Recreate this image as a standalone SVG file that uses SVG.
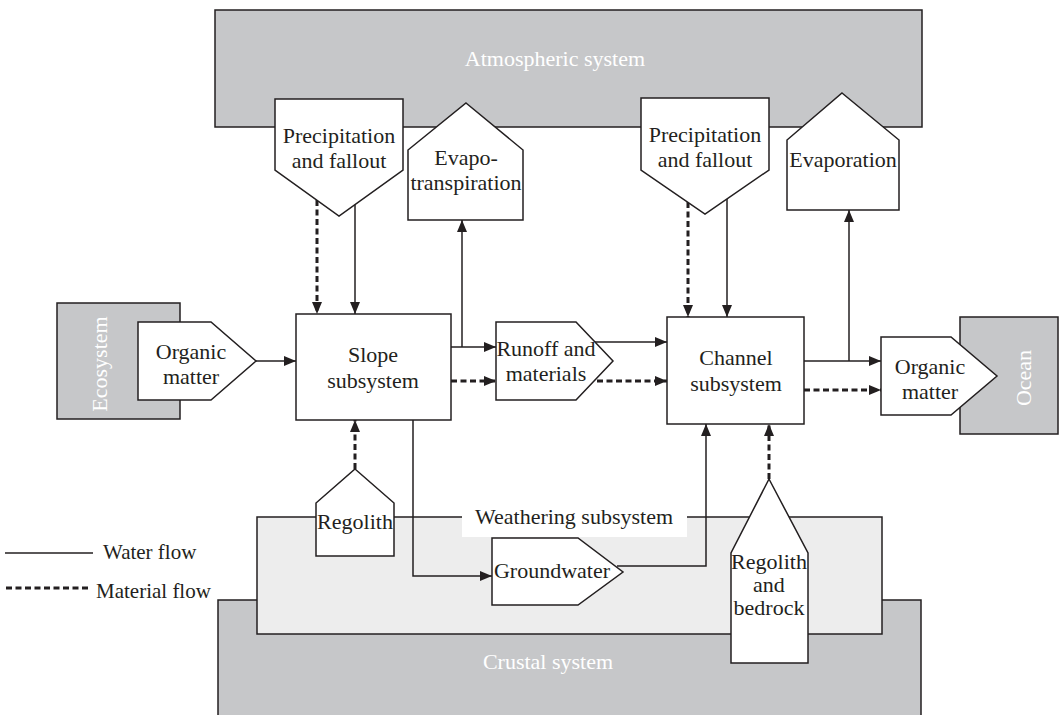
<svg xmlns="http://www.w3.org/2000/svg" width="1062" height="715" viewBox="0 0 1062 715">
  <defs>
    <marker id="arrow" viewBox="0 0 12 10" refX="12" refY="5" markerWidth="12" markerHeight="10" markerUnits="userSpaceOnUse" orient="auto">
      <path d="M0,0 L12,5 L0,10 Z" fill="#231f20"/>
    </marker>
    <style>
      .sys { fill: #c6c7c9; stroke: #231f20; stroke-width: 1.5; }
      .weather { fill: #ededed; stroke: #231f20; stroke-width: 1.5; }
      .box { fill: #ffffff; stroke: #231f20; stroke-width: 1.5; }
      .txt { font-family: "Liberation Serif", "Times New Roman", serif; font-size: 22px; fill: #231f20; text-anchor: middle; }
      .wtxt { font-family: "Liberation Serif", "Times New Roman", serif; font-size: 22px; fill: #ffffff; text-anchor: middle; }
      .ltxt { font-family: "Liberation Serif", "Times New Roman", serif; font-size: 21px; fill: #231f20; }
      .water { fill: none; stroke: #231f20; stroke-width: 1.5; }
      .material { fill: none; stroke: #231f20; stroke-width: 3; stroke-dasharray: 6 3.5; }
    </style>
  </defs>

  <!-- background systems -->
  <g id="atmospheric-system">
    <rect class="sys" x="215" y="10" width="707" height="117"/>
    <text class="wtxt" x="555" y="66">Atmospheric system</text>
  </g>
  <g id="crustal-system">
    <rect class="sys" x="218" y="600" width="703" height="125"/>
    <text class="wtxt" x="548" y="669">Crustal system</text>
  </g>
  <g id="weathering-subsystem">
    <rect class="weather" x="257" y="517" width="625" height="117"/>
    <rect x="462" y="506" width="225" height="31" fill="#ffffff"/>
    <text class="txt" x="574" y="524">Weathering subsystem</text>
  </g>
  <g id="ecosystem">
    <rect class="sys" x="57" y="303" width="123" height="116"/>
    <text class="wtxt" transform="translate(107,364) rotate(-90)">Ecosystem</text>
  </g>
  <g id="ocean">
    <rect class="sys" x="960" y="317" width="98" height="117"/>
    <text class="wtxt" transform="translate(1031,378) rotate(-90)">Ocean</text>
  </g>

  <!-- connectors -->
  <g id="connectors">
    <line class="water" x1="256" y1="361" x2="296" y2="361" marker-end="url(#arrow)"/>
    <line class="material" x1="317" y1="200" x2="317" y2="314" marker-end="url(#arrow)"/>
    <line class="water" x1="355" y1="204" x2="355" y2="314" marker-end="url(#arrow)"/>
    <line class="water" x1="451" y1="347" x2="496" y2="347" marker-end="url(#arrow)"/>
    <line class="water" x1="462" y1="347" x2="462" y2="220" marker-end="url(#arrow)"/>
    <line class="material" x1="451" y1="381" x2="496" y2="381" marker-end="url(#arrow)"/>
    <line class="water" x1="595" y1="342" x2="667" y2="342" marker-end="url(#arrow)"/>
    <line class="material" x1="597" y1="381" x2="667" y2="381" marker-end="url(#arrow)"/>
    <line class="material" x1="688" y1="202" x2="688" y2="317" marker-end="url(#arrow)"/>
    <line class="water" x1="727" y1="199" x2="727" y2="317" marker-end="url(#arrow)"/>
    <line class="water" x1="804" y1="361" x2="881" y2="361" marker-end="url(#arrow)"/>
    <line class="water" x1="849" y1="361" x2="849" y2="210" marker-end="url(#arrow)"/>
    <line class="material" x1="804" y1="390" x2="881" y2="390" marker-end="url(#arrow)"/>
    <line class="material" x1="355" y1="469" x2="355" y2="420" marker-end="url(#arrow)"/>
    <polyline class="water" points="413,420 413,576 492,576" marker-end="url(#arrow)"/>
    <polyline class="water" points="617,566 706,566 706,424" marker-end="url(#arrow)"/>
    <line class="material" x1="769" y1="479" x2="769" y2="424" marker-end="url(#arrow)"/>
  </g>

  <!-- process nodes -->
  <g id="precipitation-slope">
    <polygon class="box" points="275,99 403,99 403,170 339,216 275,170"/>
    <text class="txt" x="339" y="143">Precipitation</text>
    <text class="txt" x="339" y="168">and fallout</text>
  </g>
  <g id="evapotranspiration">
    <polygon class="box" points="466,103 523,150 523,220 408,220 408,150"/>
    <text class="txt" x="466" y="165">Evapo-</text>
    <text class="txt" x="466" y="190">transpiration</text>
  </g>
  <g id="precipitation-channel">
    <polygon class="box" points="641,98 769,98 769,170 705,214 641,170"/>
    <text class="txt" x="705" y="142">Precipitation</text>
    <text class="txt" x="705" y="167">and fallout</text>
  </g>
  <g id="evaporation">
    <polygon class="box" points="842,93 899,140 899,210 787,210 787,140"/>
    <text class="txt" x="843" y="167">Evaporation</text>
  </g>
  <g id="organic-matter-in">
    <polygon class="box" points="138,322 211,322 256,361 211,400 138,400"/>
    <text class="txt" x="191" y="359">Organic</text>
    <text class="txt" x="191" y="384">matter</text>
  </g>
  <g id="slope-subsystem">
    <rect class="box" x="296" y="314" width="155" height="106"/>
    <text class="txt" x="373" y="362">Slope</text>
    <text class="txt" x="373" y="388">subsystem</text>
  </g>
  <g id="runoff-and-materials">
    <polygon class="box" points="496,322 576,322 613,361 576,400 496,400"/>
    <text class="txt" x="546" y="356">Runoff and</text>
    <text class="txt" x="546" y="381">materials</text>
  </g>
  <g id="channel-subsystem">
    <rect class="box" x="667" y="317" width="137" height="107"/>
    <text class="txt" x="736" y="365">Channel</text>
    <text class="txt" x="736" y="391">subsystem</text>
  </g>
  <g id="organic-matter-out">
    <polygon class="box" points="881,337 951,337 997,376 951,415 881,415"/>
    <text class="txt" x="930" y="374">Organic</text>
    <text class="txt" x="930" y="399">matter</text>
  </g>
  <g id="regolith">
    <polygon class="box" points="355,469 394,503 394,556 316,556 316,503"/>
    <text class="txt" x="355" y="529">Regolith</text>
  </g>
  <g id="groundwater">
    <polygon class="box" points="492,538 578,538 623,572 578,605 492,605"/>
    <text class="txt" x="552" y="578">Groundwater</text>
  </g>
  <g id="regolith-and-bedrock">
    <polygon class="box" points="769,479 808,553 808,663 731,663 731,553"/>
    <text class="txt" x="769" y="569">Regolith</text>
    <text class="txt" x="769" y="592">and</text>
    <text class="txt" x="769" y="615">bedrock</text>
  </g>

  <!-- legend -->
  <g id="legend">
    <line class="water" x1="5" y1="553" x2="93" y2="553"/>
    <text class="ltxt" x="103" y="559">Water flow</text>
    <line class="material" x1="6" y1="588" x2="91" y2="588"/>
    <text class="ltxt" x="96" y="598">Material flow</text>
  </g>
</svg>
